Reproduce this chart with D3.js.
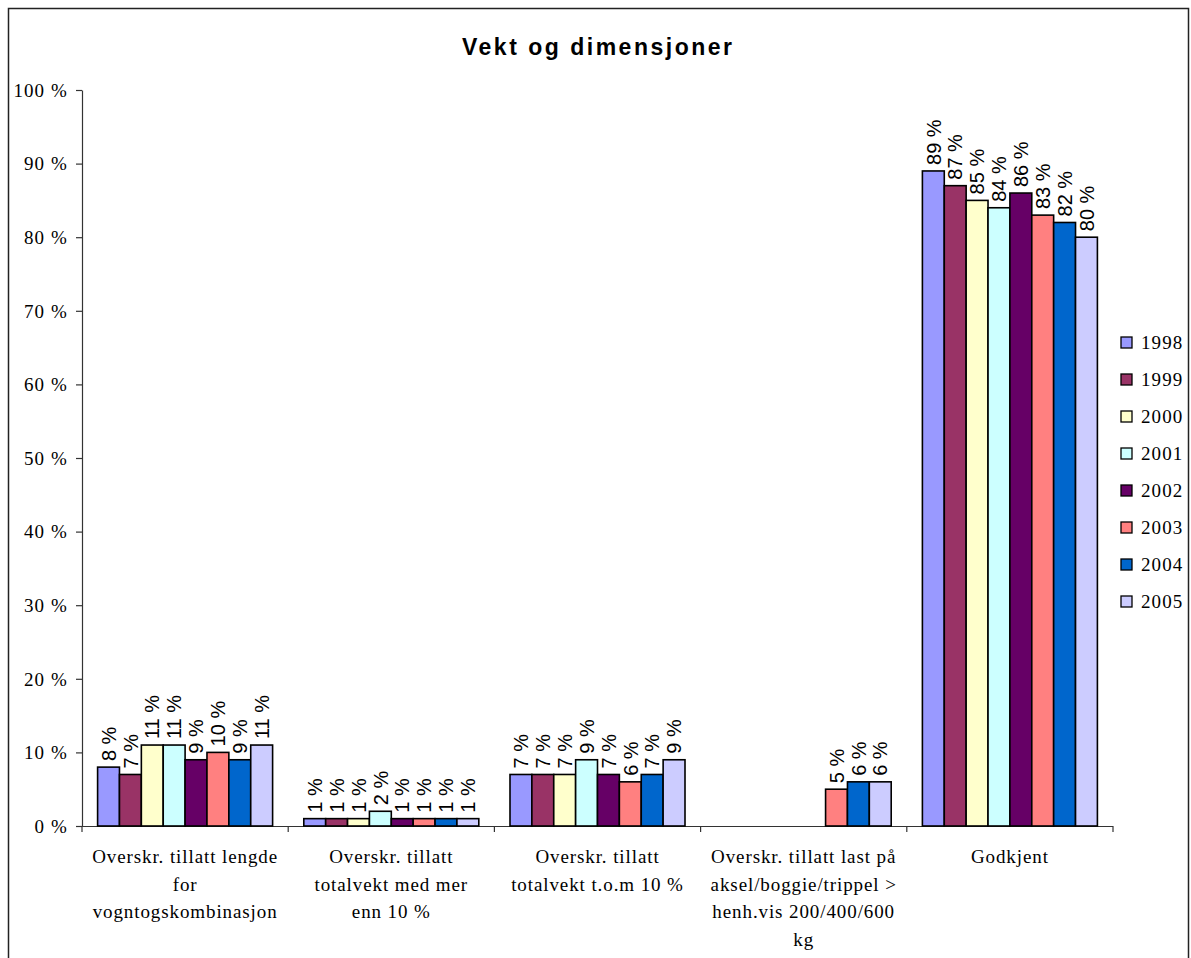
<!DOCTYPE html>
<html>
<head>
<meta charset="utf-8">
<script src="https://cdn.jsdelivr.net/npm/d3@7"></script>
<style>
  html, body { margin: 0; padding: 0; background: #fff; }
  svg { display: block; }
  .serif { font-family: "Liberation Serif", "Times New Roman", serif; }
  .sans { font-family: "Liberation Sans", Arial, sans-serif; }
</style>
</head>
<body>
<svg id="chart" width="1191" height="958"></svg>
<script>
const categories = [
  ["Overskr. tillatt lengde", "for", "vogntogskombinasjon"],
  ["Overskr. tillatt", "totalvekt med mer", "enn 10 %"],
  ["Overskr. tillatt", "totalvekt t.o.m 10 %"],
  ["Overskr. tillatt last på", "aksel/boggie/trippel >", "henh.vis 200/400/600", "kg"],
  ["Godkjent"]
];
const years = ["1998", "1999", "2000", "2001", "2002", "2003", "2004", "2005"];
const colors = ["#9999FF", "#993366", "#FFFFCC", "#CCFFFF", "#660066", "#FF8080", "#0066CC", "#CCCCFF"];
// values per category, one per year (null = no bar)
const lengdeValues   = [8, 7, 11, 11, 9, 10, 9, 11];
const over10Values   = [1, 1, 1, 2, 1, 1, 1, 1];
const tom10Values    = [7, 7, 7, 9, 7, 6, 7, 9];
const akselValues    = [null, null, null, null, null, 5, 6, 6];
const godkjentValues = [89, 87, 85, 84, 86, 83, 82, 80];
const seriesByCategory = [lengdeValues, over10Values, tom10Values, akselValues, godkjentValues];
const yTicks = [0, 10, 20, 30, 40, 50, 60, 70, 80, 90, 100];
const chartTitle = "Vekt og dimensjoner";

(function () {
const svg = d3.select("#chart");
const pLeft = 82, pRight = 1113, pTop = 90, pBottom = 826;

// outer border
svg.append("rect").attr("x", 8.5).attr("y", 8.5).attr("width", 1180).attr("height", 980)
  .attr("fill", "none").attr("stroke", "#222").attr("stroke-width", 1.5);

// title
svg.append("text").attr("class", "sans").attr("x", 597).attr("y", 55)
  .attr("text-anchor", "middle")
  .attr("font-weight", "bold").attr("font-size", 23)
  .attr("textLength", 270).attr("lengthAdjust", "spacing")
  .text(chartTitle);

const catIdx = d3.range(categories.length);
const x0 = d3.scaleBand().domain(catIdx).range([pLeft, pRight]).paddingInner(0).paddingOuter(0);
const x1 = d3.scaleBand().domain(years).range([0, x0.bandwidth()]).paddingInner(0).paddingOuter(0.713);
const y = d3.scaleLinear().domain([0, 100]).range([pBottom, pTop]);

// y axis
const yAxis = d3.axisLeft(y).tickValues(yTicks).tickFormat(d => d + " %").tickSize(6).tickSizeOuter(0);
const yg = svg.append("g").attr("transform", `translate(${pLeft},0)`).call(yAxis);
yg.attr("font-family", null);
yg.select(".domain").attr("stroke", "#333").attr("stroke-width", 1.2);
yg.selectAll(".tick line").attr("stroke", "#333").attr("stroke-width", 1.2);
yg.selectAll(".tick text")
  .attr("class", "serif")
  .attr("font-size", 19).attr("fill", "#000")
  .attr("letter-spacing", "1.1px")
  .attr("x", -14).attr("dy", "0.33em");

// x axis (category boundary ticks)
const xg = svg.append("g");
xg.append("line").attr("x1", pLeft).attr("x2", pRight).attr("y1", pBottom + 0.5).attr("y2", pBottom + 0.5)
  .attr("stroke", "#333").attr("stroke-width", 1.2);
const bounds = catIdx.map(i => x0(i)).concat([x0(categories.length - 1) + x0.bandwidth()]);
xg.selectAll("line.b").data(bounds).join("line").attr("class", "b")
  .attr("x1", d => d).attr("x2", d => d).attr("y1", pBottom).attr("y2", pBottom + 6)
  .attr("stroke", "#333").attr("stroke-width", 1.2);

// category labels
categories.forEach((lines, i) => {
  const t = svg.append("text").attr("class", "serif")
    .attr("x", x0(i) + x0.bandwidth() / 2)
    .attr("y", 863)
    .attr("text-anchor", "middle")
    .attr("font-size", 19).attr("letter-spacing", "0.9px").attr("fill", "#000");
  lines.forEach((ln, k) => {
    t.append("tspan").attr("x", x0(i) + x0.bandwidth() / 2).attr("dy", k === 0 ? 0 : 27.5).text(ln);
  });
});

// bars
const groups = svg.append("g").selectAll("g").data(catIdx).join("g")
  .attr("transform", i => `translate(${x0(i)},0)`);
groups.each(function (i) {
  const data = seriesByCategory[i].map((v, j) => ({ v, year: years[j], color: colors[j] })).filter(d => d.v !== null);
  const g = d3.select(this);
  g.selectAll("rect").data(data).join("rect")
    .attr("x", d => x1(d.year))
    .attr("y", d => y(d.v))
    .attr("width", x1.bandwidth())
    .attr("height", d => y(0) - y(d.v))
    .attr("fill", d => d.color)
    .attr("stroke", "#000").attr("stroke-width", 1.6);
  g.selectAll("text").data(data).join("text")
    .attr("class", "sans")
    .attr("transform", d => `translate(${x1(d.year) + x1.bandwidth() / 2},${y(d.v) - 6}) rotate(-90)`)
    .attr("dy", "0.36em")
    .attr("text-anchor", "start")
    .attr("font-size", 20).attr("fill", "#000")
    .text(d => d.v + " %");
});

// legend
const lg = svg.append("g");
years.forEach((yr, j) => {
  const cy = 343 + j * 37;
  lg.append("rect").attr("x", 1121).attr("y", cy - 6).attr("width", 11).attr("height", 11)
    .attr("fill", colors[j]).attr("stroke", "#000").attr("stroke-width", 1.3);
  lg.append("text").attr("class", "serif").attr("x", 1141).attr("y", cy).attr("dy", "0.33em")
    .attr("font-size", 19).attr("letter-spacing", "1.1px").attr("fill", "#000")
    .text(yr);
});
})();
</script>
</body>
</html>
